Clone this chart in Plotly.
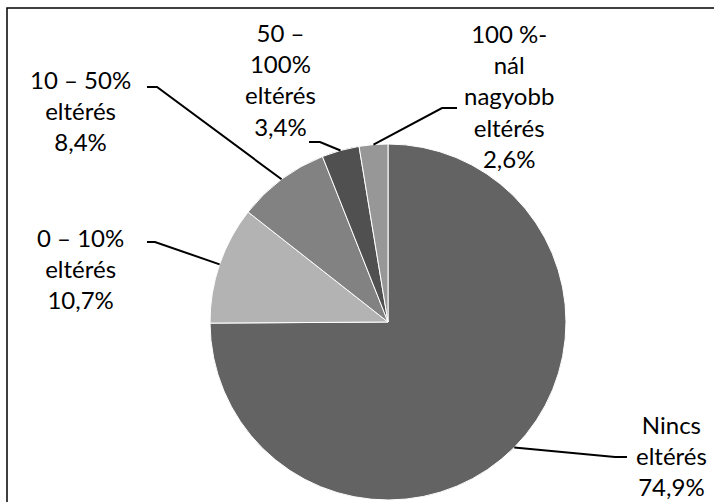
import math
import plotly.graph_objects as go

# ---- data ----
categories = ["Nincs eltérés", "0 – 10% eltérés", "10 – 50% eltérés",
              "50 – 100% eltérés", "100 %-nál nagyobb eltérés"]
label_lines = ["Nincs<br>eltérés", "0 – 10%<br>eltérés", "10 – 50%<br>eltérés",
               "50 –<br>100%<br>eltérés", "100 %-<br>nál<br>nagyobb<br>eltérés"]
values = [74.9, 10.7, 8.4, 3.4, 2.6]
colors = ["#636363", "#b3b3b3", "#828282", "#505050", "#979797"]

# ---- layout constants (pixels) ----
W, H = 714, 502
CX, CY, R = 388, 322, 178
FONT = "Lato"
FS = 24
# label block centres and leader-line elbow / end points (pixels)
label_pos = [(671, 455), (80, 268), (80, 110), (280, 80), (509, 96)]
elbows = [[(615, 457), (627, 457)],
          [(155, 242), (147, 242)],
          [(157, 87), (147, 87)],
          [(320, 142), (309, 142)],
          [(442, 108), (457, 108)]]


def px(x):
    return x / W


def py(y):
    return 1 - y / H


fig = go.Figure(go.Pie(
    labels=categories, values=values, sort=False, direction="clockwise",
    rotation=0, marker=dict(colors=colors, line=dict(color="white", width=1)),
    textinfo="none", hoverinfo="label+percent", showlegend=False,
    domain=dict(x=[px(CX - R), px(CX + R)], y=[py(CY + R), py(CY - R)]),
))

total = sum(values)
cum = 0.0
shapes = []
annotations = []
for i, v in enumerate(values):
    mid = (cum + v / 2) / total * 2 * math.pi
    cum += v
    ex = CX + R * math.sin(mid)
    ey = CY - R * math.cos(mid)
    pts = [(ex, ey)] + elbows[i]
    path = "M " + " L ".join(f"{px(x):.5f},{py(y):.5f}" for x, y in pts)
    shapes.append(dict(type="path", xref="paper", yref="paper", path=path,
                       line=dict(color="black", width=2)))
    pct = f"{v:.1f}".replace(".", ",") + "%"
    lx, ly = label_pos[i]
    annotations.append(dict(
        x=px(lx), y=py(ly), xref="paper", yref="paper", showarrow=False,
        text=label_lines[i] + "<br>" + pct, align="center",
        xanchor="center", yanchor="middle",
        font=dict(family=FONT, size=FS, color="black")))

# outer frame (cropped on right / bottom)
shapes.append(dict(type="rect", xref="paper", yref="paper",
                   x0=px(7), y0=py(560), x1=px(760), y1=py(8),
                   line=dict(color="black", width=1.5), fillcolor="rgba(0,0,0,0)",
                   layer="below"))

fig.update_layout(width=W, height=H, margin=dict(l=0, r=0, t=0, b=0),
                  paper_bgcolor="white", plot_bgcolor="white",
                  shapes=shapes, annotations=annotations)

fig.write_html("out.html", config={"displayModeBar": False},
               post_script="document.body.style.margin='0';"
                           "document.body.style.padding='0';"
                           "document.body.style.overflow='hidden';")
